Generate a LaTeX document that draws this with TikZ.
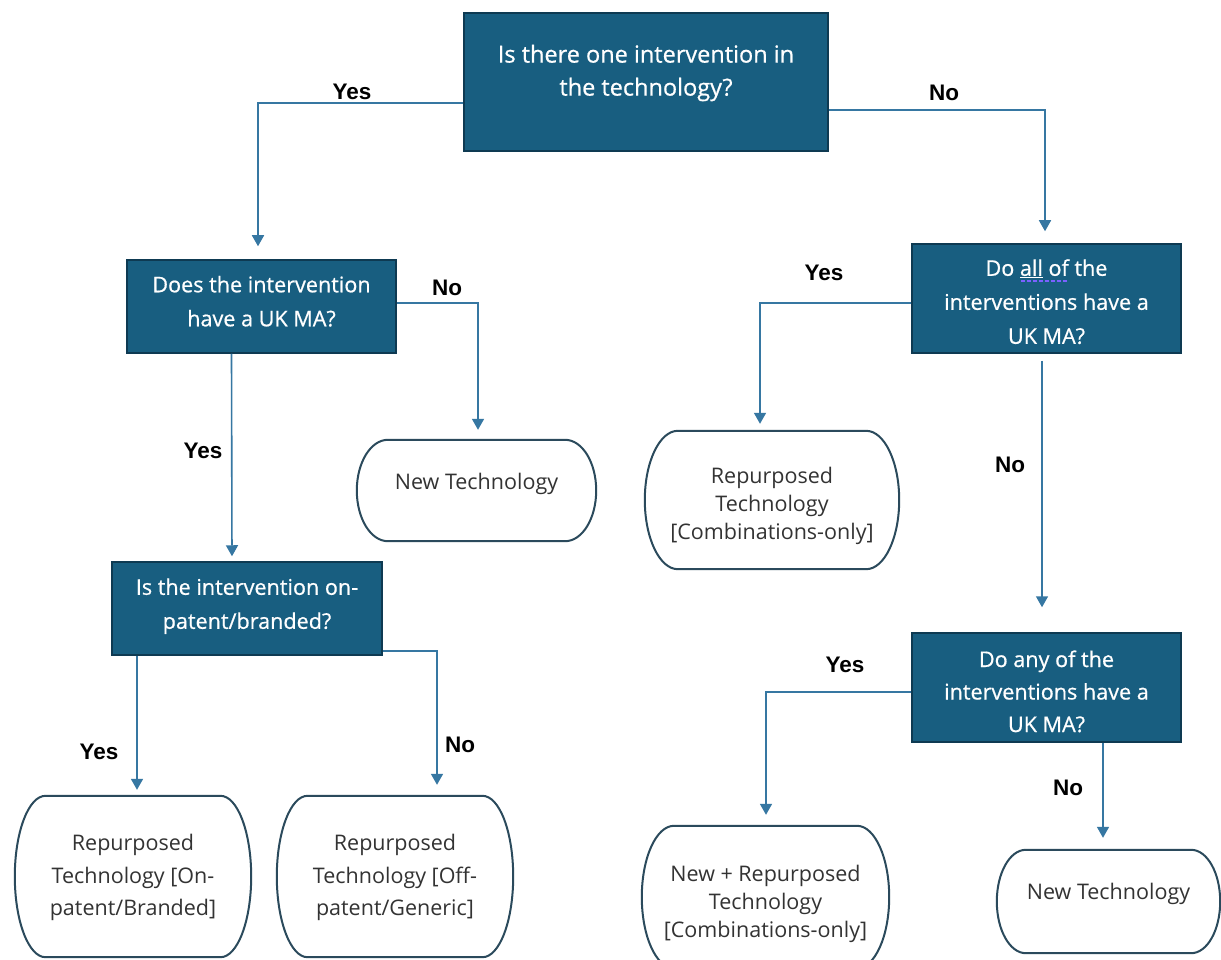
\documentclass[tikz,border=0pt]{standalone}
\usepackage{fontspec}
\setmainfont{Open Sans}
\newfontfamily\qfont{Open Sans}[FakeBold=0.7]
\newfontfamily\lblfont{Liberation Sans}
\usetikzlibrary{arrows.meta,calc}
\definecolor{qfill}{HTML}{185E80}
\definecolor{qborder}{HTML}{0E3A52}
\definecolor{arrowcol}{HTML}{3677A2}
\definecolor{termcol}{HTML}{2B4A5C}
\definecolor{termtext}{HTML}{333333}
\definecolor{spell}{HTML}{7B61FF}
\newcommand\up[2]{\raisebox{#1}[\height][\depth]{\begin{tabular}{@{}c@{}}#2\end{tabular}}}
\newsavebox\spellbox
\newcommand\spelldash[1]{\sbox\spellbox{#1}\rlap{\raisebox{-6pt}{\color{spell}\leaders\hbox to 6pt{\hss\rule{4pt}{1.6pt}\hss}\hskip\wd\spellbox}}\usebox\spellbox}
\newcommand\termoutline[1]{%
  \path let \p1=(#1.north west), \p2=(#1.south east),
    \n1={0.13*(\x2-\x1)}, \n2={0.5*(\y1-\y2)} in
    [draw=termcol, line width=2pt]
    ({\x1+\n1},\y1) -- ({\x2-\n1},\y1)
    arc[start angle=90, end angle=-90, x radius=\n1, y radius=\n2]
    -- ({\x1+\n1},\y2)
    arc[start angle=270, end angle=90, x radius=\n1, y radius=\n2]
    -- cycle;}
\begin{document}
\begin{tikzpicture}[x=1pt,y=-1pt,
  qbox/.style={rectangle, fill=qfill, draw=qborder, line width=1.5pt, text=white,
    inner sep=0pt, font=\qfont\fontsize{21.6}{34}\selectfont},
  term/.style={rectangle, inner sep=0pt, text=termtext, font=\fontsize{21.5}{32}\selectfont},
  lbl/.style={font=\lblfont\bfseries\fontsize{22.5}{26}\selectfont, text=black, inner sep=0pt},
  arr/.style={draw=arrowcol, line width=1.6pt, -{Triangle[width=12pt,length=11pt]}, arrowcol}
]
\useasboundingbox[fill=white] (0,0) rectangle (1221,960);

% question boxes
\node[qbox, minimum width=364, minimum height=138, font=\qfont\fontsize{23.5}{33}\selectfont] (Q1) at (646,82)
  {\up{9.5pt}{Is there one intervention in\\the technology?}};
\node[qbox, minimum width=269, minimum height=93] (Q2) at (261.5,306.5)
  {\up{4pt}{Does the intervention\\have a UK MA?}};
\node[qbox, minimum width=270, minimum height=93] (Q3) at (247,608.5)
  {\up{3.5pt}{Is the intervention on-\\patent/branded?}};
\node[qbox, minimum width=269, minimum height=109] (Q4) at (1046.5,298.5)
  {\up{-4.5pt}{Do \spelldash{\underline{all} of} the\\interventions have a\\UK MA?}};
\node[qbox, minimum width=269, minimum height=109, font=\qfont\fontsize{21.6}{32.5}\selectfont] (Q5) at (1046.5,687.5)
  {\up{-5.5pt}{Do any of the\\interventions have a\\UK MA?}};

% terminal nodes
\node[term, minimum width=239, minimum height=101] (T1) at (476.5,490.5)
  {\up{7.5pt}{New Technology}};
\node[term, minimum width=254, minimum height=138, font=\fontsize{21.5}{28}\selectfont] (T2) at (772,500)
  {\up{-6pt}{Repurposed\\Technology\\{[}Combinations-only{]}}};
\node[term, minimum width=236, minimum height=161, font=\fontsize{21.5}{32.5}\selectfont] (T3) at (133,876.5)
  {\up{0pt}{Repurposed\\Technology {[}On-\\patent/Branded{]}}};
\node[term, minimum width=236, minimum height=161, font=\fontsize{21.5}{32.5}\selectfont] (T4) at (395,876.5)
  {\up{0pt}{Repurposed\\Technology {[}Off-\\patent/Generic{]}}};
\node[term, minimum width=247, minimum height=142, font=\fontsize{21.5}{28}\selectfont] (T5) at (765.5,897)
  {\up{-7pt}{New + Repurposed\\Technology\\{[}Combinations-only{]}}};
\node[term, minimum width=223, minimum height=103] (T6) at (1108.5,901.5)
  {\up{8.5pt}{New Technology}};
\termoutline{T1}
\termoutline{T2}
\termoutline{T3}
\termoutline{T4}
\termoutline{T5}
\termoutline{T6}

% connectors
\draw[arr, shorten >=13pt] ([yshift=-21pt]Q1.west) -| ([xshift=-3.5pt]Q2.north);
\draw[arr, shorten >=12pt] ([yshift=-28pt]Q1.east) -| ([xshift=-1.5pt]Q4.north);
\draw[arr, shorten >=10pt] ([yshift=3.5pt]Q2.east) -| ([xshift=1.5pt]T1.north);
\draw[arr, shorten >=5pt] ([xshift=-30pt]Q2.south) -- ([xshift=-15pt]Q3.north);
\draw[arr, shorten >=6pt] ([xshift=-110pt]Q3.south) -- ([xshift=4pt]T3.north);
\draw[arr, shorten >=11pt] ([yshift=-42.5pt]Q3.east) -| ([xshift=42pt]T4.north);
\draw[arr, shorten >=7pt] ([yshift=-4.5pt]Q4.west) -| ([xshift=-12pt]T2.north);
\draw[arr, shorten <=7pt, shorten >=25pt] ([xshift=-4.5pt]Q4.south) -- ([xshift=-4.5pt]Q5.north);
\draw[arr, shorten >=11pt] ([yshift=-4.5pt]Q5.west) -| ([xshift=0.5pt]T5.north);
\draw[arr, shorten >=12pt] ([xshift=56.5pt]Q5.south) -- ([xshift=-5.5pt]T6.north);

% labels
\node[lbl] (L1) at (352,92) {Yes};
\node[lbl] (L2) at (944,93) {No};
\node[lbl] (L3) at (447,288) {No};
\node[lbl] (L4) at (203,451) {Yes};
\node[lbl] (L5) at (99,752) {Yes};
\node[lbl] (L6) at (460,745) {No};
\node[lbl] (L7) at (824,273) {Yes};
\node[lbl] (L8) at (1010,465) {No};
\node[lbl] (L9) at (845,665) {Yes};
\node[lbl] (L10) at (1068,788) {No};
\end{tikzpicture}
\end{document}
